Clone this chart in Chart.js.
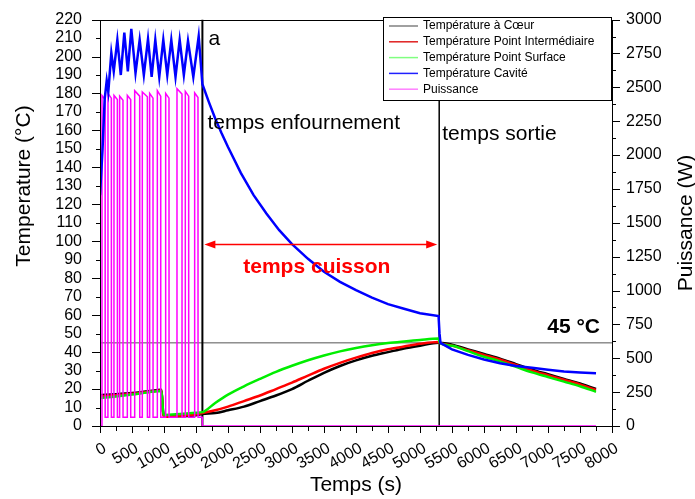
<!DOCTYPE html>
<html>
<head>
<meta charset="utf-8">
<title>Cuisson</title>
<script src="https://cdn.jsdelivr.net/npm/chart.js@4.4.1/dist/chart.umd.min.js"></script>
<style>
  html, body { margin: 0; padding: 0; background: #fff; }
</style>
</head>
<body>
<canvas id="chart" width="695" height="499"></canvas>
<script>
// Données
const seriesNames = ['Température à Cœur', 'Température Point Intermédiaire', 'Température Point Surface', 'Température Cavité', 'Puissance'];

// temps (s) communs aux trois sondes dans le produit
const probeTime = [0, 250, 500, 750, 960, 985, 1000, 1250, 1500, 1600, 1800, 2000, 2250, 2500, 2750, 3000, 3250, 3500, 3750, 4000, 4250, 4500, 4750, 5000, 5290, 5310, 5500, 5750, 6000, 6250, 6500, 6750, 7000, 7250, 7500, 7750];
const coeurTemp = [16.8, 17.2, 17.8, 18.8, 19.6, 8, 5.5, 5.3, 5.8, 6.5, 7, 8.5, 10.5, 13.5, 16.5, 20, 24.5, 28.8, 32.5, 35.5, 38, 40, 42, 43.5, 45, 45, 44, 41.5, 39, 36.5, 33.5, 30.5, 28, 25.5, 23, 20];
const interTemp = [16, 16.6, 17.4, 18.4, 19.2, 7, 5, 5.5, 6.2, 7, 8.5, 10.5, 13.5, 16.5, 20, 23.5, 27.3, 31, 34.2, 37, 39.5, 41.5, 43, 44.5, 45.5, 45, 43.5, 41, 38.5, 36, 33, 30, 27.5, 25, 22.5, 19.5];
const surfTemp = [15.2, 16, 17, 18.2, 19, 8, 6, 6.5, 7.2, 7.5, 12.5, 17, 21.5, 25.5, 29.3, 32.6, 35.6, 38.2, 40.4, 42.2, 43.7, 44.9, 45.8, 46.6, 47.3, 45, 43.5, 40.5, 37.5, 35, 32, 29, 26.5, 24, 21.5, 18.5];

// température cavité
const cavTime = [0, 40, 73, 105, 130, 177, 215, 271, 325, 380, 435, 489, 555, 620, 685, 750, 807, 864, 926, 989, 1051, 1114, 1180, 1245, 1310, 1375, 1458, 1542, 1600, 1700, 1800, 1900, 2000, 2200, 2400, 2600, 2800, 3000, 3250, 3500, 3750, 4000, 4250, 4500, 4750, 5000, 5290, 5305, 5320, 5500, 5750, 6000, 6250, 6500, 6750, 7000, 7250, 7500, 7750];
const cavTemp = [125, 150, 177, 187, 181, 202, 192, 209, 190, 213, 192, 215, 191, 209, 190, 209.5, 189, 209, 189, 209, 190, 209, 189, 209, 190, 208.5, 189, 211, 185, 175.5, 166.5, 158.5, 151, 137, 125, 115, 106, 98.5, 90.5, 83.5, 78, 73.5, 69.5, 66, 63.5, 61, 59.5, 50, 45, 41.5, 38.5, 36, 34, 32.5, 31.5, 30.5, 29.5, 29, 28.5];

// puissance du four (W)
const powerTime = [0, 30, 31, 80, 81, 124, 125, 177, 178, 218, 219, 271, 272, 306, 307, 359, 360, 426, 427, 479, 480, 541, 542, 620, 621, 660, 661, 740, 741, 775, 776, 828, 829, 895, 896, 948, 949, 1025, 1026, 1078, 1079, 1202, 1203, 1281, 1282, 1332, 1333, 1385, 1386, 1478, 1479, 1531, 1532, 1599, 1600, 7750];
const powerW = [0, 0, 2440, 2410, 65, 65, 2455, 2420, 65, 65, 2440, 2410, 65, 65, 2435, 2405, 65, 65, 2440, 2410, 65, 65, 2475, 2435, 65, 65, 2465, 2430, 65, 65, 2455, 2420, 65, 65, 2475, 2435, 65, 65, 2455, 2420, 65, 65, 2490, 2450, 65, 65, 2470, 2435, 65, 65, 2460, 2425, 65, 65, 0, 0];

// repères
const eventTimes = [1600, 5300];      // enfournement, sortie
const targetTemp = 45;
const arrowTemp = 98.5;
const timeRange = [0, 8000];
const tempRange = [0, 220];
const powerRange = [0, 3000];

const FONT = '"Liberation Sans", Arial, sans-serif';

function zip(xs, ys) {
  return xs.map((t, i) => ({ x: t, y: ys[i] }));
}

// Légende encadrée + annotations + cadre
const decor = {
  id: 'decor',
  afterDraw(chart) {
    const { ctx, chartArea: a, scales } = chart;
    const x = scales.x, y = scales.y, y1 = scales.y1;
    ctx.save();

    // cadre
    ctx.strokeStyle = '#000';
    ctx.lineWidth = 1;
    ctx.strokeRect(Math.round(a.left) + 0.5, Math.round(a.top) + 0.5, Math.round(a.right - a.left), Math.round(a.bottom - a.top));

    // graduations
    ctx.beginPath();
    for (let v = tempRange[0]; v <= tempRange[1]; v += 10) {
      const py = Math.round(y.getPixelForValue(v)) + 0.5;
      const len = v % 20 === 0 ? 8 : 4;
      ctx.moveTo(a.left - len, py); ctx.lineTo(a.left, py);
    }
    for (let v = powerRange[0]; v <= powerRange[1]; v += 125) {
      const py = Math.round(y1.getPixelForValue(v)) + 0.5;
      const len = v % 250 === 0 ? 8 : 4;
      ctx.moveTo(a.right, py); ctx.lineTo(a.right + len, py);
    }
    for (let v = timeRange[0]; v <= timeRange[1]; v += 250) {
      const px = Math.round(x.getPixelForValue(v)) + 0.5;
      const len = v % 500 === 0 ? 7 : 5;
      ctx.moveTo(px, a.bottom); ctx.lineTo(px, a.bottom + len);
    }
    ctx.stroke();

    // flèche temps cuisson
    const ay = Math.round(y.getPixelForValue(arrowTemp)) + 0.5;
    const ax1 = x.getPixelForValue(eventTimes[0]) + 2;
    const ax2 = x.getPixelForValue(eventTimes[1]) - 2;
    ctx.strokeStyle = '#ff0000';
    ctx.fillStyle = '#ff0000';
    ctx.lineWidth = 1.5;
    ctx.beginPath(); ctx.moveTo(ax1 + 6, ay); ctx.lineTo(ax2 - 6, ay); ctx.stroke();
    ctx.beginPath(); ctx.moveTo(ax1, ay); ctx.lineTo(ax1 + 11, ay - 4); ctx.lineTo(ax1 + 11, ay + 4); ctx.closePath(); ctx.fill();
    ctx.beginPath(); ctx.moveTo(ax2, ay); ctx.lineTo(ax2 - 11, ay - 4); ctx.lineTo(ax2 - 11, ay + 4); ctx.closePath(); ctx.fill();

    ctx.textBaseline = 'alphabetic';
    ctx.font = 'bold 21px ' + FONT;
    ctx.textAlign = 'center';
    ctx.fillText('temps cuisson', (ax1 + ax2) / 2 - 4, ay + 28);

    ctx.fillStyle = '#000';
    ctx.textAlign = 'right';
    ctx.fillText('45 °C', a.right - 12, y.getPixelForValue(targetTemp) - 10);

    ctx.font = '21px ' + FONT;
    ctx.textAlign = 'left';
    const ex = x.getPixelForValue(eventTimes[0]);
    const sx = x.getPixelForValue(eventTimes[1]);
    ctx.fillText('a', ex + 6, a.top + 25);
    ctx.fillText('temps enfournement', ex + 5, a.top + 109);
    ctx.fillText('temps sortie', sx + 3, a.top + 120);

    // titres des axes
    ctx.textAlign = 'center';
    ctx.fillText('Temps (s)', 356, 491);
    ctx.save();
    ctx.translate(30, 186);
    ctx.rotate(-Math.PI / 2);
    ctx.fillText('Temperature (°C)', 0, 0);
    ctx.restore();
    ctx.save();
    ctx.translate(692, 223);
    ctx.rotate(-Math.PI / 2);
    ctx.fillText('Puissance (W)', 0, 0);
    ctx.restore();

    // légende
    const lx = 383, ly = 17, lw = a.right - lx, lh = 83;
    ctx.fillStyle = '#fff';
    ctx.fillRect(lx, ly, lw, lh);
    ctx.strokeStyle = '#000';
    ctx.lineWidth = 1;
    ctx.strokeRect(lx + 0.5, ly + 0.5, lw - 1, lh);
    const legendColors = ['#808080', '#e02020', '#80ff80', '#2020ff', '#ff80ff'];
    ctx.font = '12px ' + FONT;
    ctx.textBaseline = 'middle';
    ctx.textAlign = 'left';
    seriesNames.forEach((name, i) => {
      const ry = ly + 9 + i * 15.8;
      ctx.strokeStyle = legendColors[i];
      ctx.lineWidth = 1.5;
      ctx.beginPath(); ctx.moveTo(lx + 6, ry); ctx.lineTo(lx + 35, ry); ctx.stroke();
      ctx.fillStyle = '#000';
      ctx.fillText(name, lx + 40, ry);
    });

    ctx.restore();
  }
};

const line = (label, data, color, width, order, axis, smooth) => ({
  label, data, borderColor: color, borderWidth: width, order,
  yAxisID: axis || 'y', pointRadius: 0, fill: false,
  tension: 0, cubicInterpolationMode: smooth ? 'monotone' : 'default'
});

const plain = (v) => String(v);

new Chart(document.getElementById('chart'), {
  type: 'line',
  data: {
    datasets: [
      line(seriesNames[3], zip(cavTime, cavTemp), '#0000ff', 2.5, 1, 'y'),
      line(seriesNames[4], zip(powerTime, powerW), '#ff00ff', 1.5, 2, 'y1'),
      line(seriesNames[2], zip(probeTime, surfTemp), '#00ee00', 2.5, 3, 'y', true),
      line(seriesNames[1], zip(probeTime, interTemp), '#ff0000', 2.5, 4, 'y', true),
      line(seriesNames[0], zip(probeTime, coeurTemp), '#000000', 2.5, 5, 'y', true),
      line('enfournement', [{ x: eventTimes[0], y: tempRange[0] }, { x: eventTimes[0], y: tempRange[1] }], '#000', 2, 9),
      line('sortie', [{ x: eventTimes[1], y: tempRange[0] }, { x: eventTimes[1], y: tempRange[1] }], '#000', 1.5, 9),
      line('45 °C', [{ x: timeRange[0], y: targetTemp }, { x: timeRange[1], y: targetTemp }], '#555', 1, 10)
    ]
  },
  options: {
    responsive: false,
    animation: false,
    layout: { padding: { top: 15, left: 0, right: 0, bottom: 0 } },
    plugins: { legend: { display: false }, tooltip: { enabled: false } },
    scales: {
      x: {
        type: 'linear', min: timeRange[0], max: timeRange[1],
        border: { display: false },
        grid: { drawOnChartArea: false, tickLength: 7, tickColor: 'transparent' },
        ticks: { stepSize: 500, autoSkip: false, minRotation: 30, maxRotation: 30, padding: 6, labelOffset: 5, color: '#000', font: { family: FONT, size: 16 }, callback: plain },
        afterFit: (s) => { s.height = 73; }
      },
      y: {
        position: 'left', min: tempRange[0], max: tempRange[1],
        border: { display: false },
        grid: { drawOnChartArea: false, tickLength: 8, tickColor: 'transparent' },
        ticks: { stepSize: 10, autoSkip: false, padding: 10, color: '#000', font: { family: FONT, size: 16 }, callback: plain },
        afterFit: (s) => { s.width = 100; }
      },
      y1: {
        position: 'right', min: powerRange[0], max: powerRange[1],
        border: { display: false },
        grid: { drawOnChartArea: false, tickLength: 8, tickColor: 'transparent' },
        ticks: { stepSize: 250, autoSkip: false, padding: 6, color: '#000', font: { family: FONT, size: 16 }, callback: plain },
        afterFit: (s) => { s.width = 83; }
      }
    }
  },
  plugins: [decor]
});
</script>
</body>
</html>
